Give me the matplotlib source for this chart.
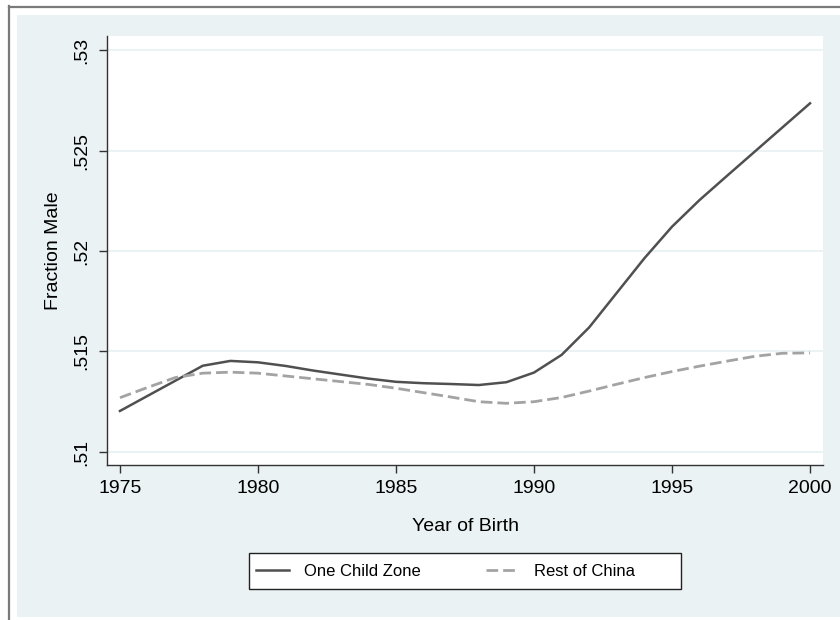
import matplotlib
matplotlib.use("Agg")
import matplotlib.pyplot as plt
from matplotlib.patches import Rectangle
from matplotlib.lines import Line2D

plt.rcParams['font.family'] = ['Liberation Sans', 'DejaVu Sans']

# data
years = list(range(1975, 2001))
one_child = [0.51204, 0.51279, 0.51354, 0.51429, 0.51453, 0.51446, 0.51428,
             0.51405, 0.51385, 0.51365, 0.51349, 0.51342, 0.51338, 0.51333,
             0.51347, 0.51395, 0.51483, 0.51620, 0.51792, 0.51964, 0.52121,
             0.52254, 0.52375, 0.52495, 0.52615, 0.52735]
rest_china = [0.51270, 0.51321, 0.51370, 0.51392, 0.51397, 0.51392, 0.51378,
              0.51364, 0.51350, 0.51336, 0.51317, 0.51295, 0.51273, 0.51250,
              0.51242, 0.51250, 0.51271, 0.51303, 0.51337, 0.51370, 0.51400,
              0.51427, 0.51452, 0.51476, 0.51491, 0.51493]
xticks = [1975, 1980, 1985, 1990, 1995, 2000]
yticks = [0.51, 0.515, 0.52, 0.525, 0.53]
ytick_labels = ['.51', '.515', '.52', '.525', '.53']

W, H = 840, 620
bg = '#eaf2f3'
fig = plt.figure(figsize=(W / 100, H / 100), dpi=100, facecolor='white')

def px(x0, y0, x1, y1):
    # pixel box (top-left origin) -> figure fraction rect
    return (x0 / W, 1 - y1 / H, (x1 - x0) / W, (y1 - y0) / H)

# stata-like outer background and border
x, y, w, h = px(17, 15, 840, 617)
fig.patches.append(Rectangle((x, y), w, h, transform=fig.transFigure,
                             facecolor=bg, edgecolor='none', zorder=-5))
fig.add_artist(Line2D([8.5 / W, 8.5 / W], [0, 1 - 6 / H], transform=fig.transFigure,
                      color='#7a7a7a', lw=1.6))
fig.add_artist(Line2D([8.5 / W, 1], [1 - 6.5 / H, 1 - 6.5 / H], transform=fig.transFigure,
                      color='#7a7a7a', lw=1.6))

ax = fig.add_axes(px(107, 36, 823, 465))
ax.set_facecolor('white')

l1, = ax.plot(years, one_child, color='#505050', lw=1.8, solid_joinstyle='round',
              label='One Child Zone', zorder=3)
l2, = ax.plot(years, rest_china, color='#a3a3a3', lw=2.0, dashes=(4.2, 1.8),
              label='Rest of China', zorder=3)

ax.set_xlim(1974.53, 2000.47)
ax.set_ylim(0.50935, 0.5307)
ax.set_xticks(xticks)
ax.set_yticks(yticks)
ax.set_yticklabels(ytick_labels)
ax.grid(axis='y', color='#e6eff0', lw=1.1)
ax.set_axisbelow(True)

for s in ['top', 'right']:
    ax.spines[s].set_visible(False)
for s in ['left', 'bottom']:
    ax.spines[s].set_color('#333333')
    ax.spines[s].set_linewidth(1.0)

ax.tick_params(axis='both', direction='out', length=6, width=1, color='#333333',
               labelsize=14)
ax.tick_params(axis='y', labelrotation=90, pad=6)
ax.tick_params(axis='x', pad=5)
for t in ax.get_yticklabels():
    t.set_va('center')

ax.set_xlabel('Year of Birth', fontsize=14, labelpad=15)
ax.set_ylabel('Fraction Male', fontsize=14, labelpad=8)

# legend box
x, y, w, h = px(249, 553, 681, 589)
fig.patches.append(Rectangle((x, y), w, h, transform=fig.transFigure,
                             facecolor='white', edgecolor='#222222', lw=1.0, zorder=1))
fig.legend(handles=[l1, l2], loc='center left', bbox_to_anchor=(256 / W, 1 - 571 / H),
           ncol=2, frameon=False, fontsize=12, handlelength=2.0, handletextpad=0.9,
           columnspacing=3.9, borderpad=0, borderaxespad=0)

fig.savefig('out.png', dpi=100, facecolor='white')
